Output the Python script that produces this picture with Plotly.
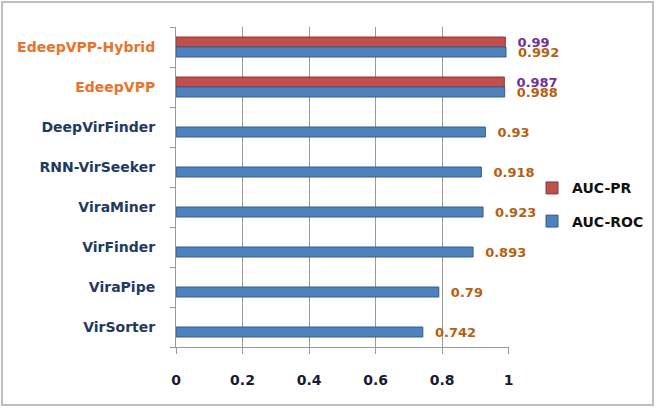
import plotly.graph_objects as go

categories = ["EdeepVPP-Hybrid", "EdeepVPP", "DeepVirFinder", "RNN-VirSeeker",
              "ViraMiner", "VirFinder", "ViraPipe", "VirSorter"]
auc_pr = [0.99, 0.987, None, None, None, None, None, None]
auc_roc = [0.992, 0.988, 0.93, 0.918, 0.923, 0.893, 0.79, 0.742]
x_ticks = [0, 0.2, 0.4, 0.6, 0.8, 1]
x_tick_labels = ["0", "0.2", "0.4", "0.6", "0.8", "1"]

cat_colors = ["#E8742B", "#E8742B"] + ["#1F3A60"] * 6
ticktext = [f"<span style='color:{c}'>{n}</span>" for n, c in zip(categories, cat_colors)]

FONT = "DejaVu Sans"
W, H = 656, 408
L, R, T, B = 176, 147, 27, 61
PAD = "\u00a0\u00a0"

fig = go.Figure()
fig.add_trace(go.Bar(
    y=categories, x=auc_pr, orientation="h", name="AUC-PR",
    marker=dict(color="#C0504D", line=dict(color="#8C3836", width=1)),
    text=[(PAD + "%g" % v) if v is not None else "" for v in auc_pr],
    textposition="outside", constraintext="none", cliponaxis=False,
    textfont=dict(family=FONT, size=13, color="#7030A0", weight="bold"),
    legendgroup="pr",
))
fig.add_trace(go.Bar(
    y=categories, x=auc_roc, orientation="h", name="AUC-ROC",
    marker=dict(color="#4F81BD", line=dict(color="#385D8A", width=1)),
    text=[PAD + "%g" % v for v in auc_roc],
    textposition="outside", constraintext="none", cliponaxis=False,
    textfont=dict(family=FONT, size=13, color="#B8600F", weight="bold"),
    legendgroup="roc",
))

fig.update_layout(
    width=W, height=H,
    margin=dict(l=L, r=R, t=T, b=B, autoexpand=False),
    paper_bgcolor="white", plot_bgcolor="white",
    barmode="group", bargap=0.5, bargroupgap=0,
    font=dict(family=FONT, size=14, color="#1F2A44"),
    showlegend=True,
    legend=dict(xref="container", yref="container", x=0.811, y=0.498,
                xanchor="left", yanchor="middle",
                font=dict(family=FONT, size=14, color="#111111", weight="bold"),
                tracegroupgap=12, bgcolor="rgba(0,0,0,0)"),
    xaxis=dict(range=[0, 1.001], tickvals=x_ticks, ticktext=x_tick_labels,
               showgrid=True, gridcolor="#9A9A9A", gridwidth=1,
               zeroline=False, showline=True, linecolor="#9A9A9A",
               ticks="outside", ticklen=6, tickcolor="#9A9A9A",
               ticklabelstandoff=14, automargin=False,
               tickfont=dict(family=FONT, size=14, color="#1A1A33", weight="bold")),
    yaxis=dict(autorange="reversed", tickvals=categories, ticktext=ticktext,
               showline=True, linecolor="#9A9A9A", ticks="outside",
               tickson="boundaries", ticklen=5, tickcolor="#9A9A9A",
               ticklabelstandoff=17, automargin=False,
               tickfont=dict(family=FONT, size=14, weight="bold")),
)

pw = W - L - R
ph = H - T - B
fig.add_shape(type="rect", xref="paper", yref="paper",
              x0=(2 - L) / pw, x1=(W - 3 - L) / pw,
              y0=-(H - 3 - T - ph) / ph, y1=(H - 2 - B) / ph,
              line=dict(color="#BEBEBE", width=2), layer="below")

fig.write_html("out.html", config={"displayModeBar": False},
               post_script="document.body.style.margin='0';document.body.style.overflow='hidden';")
